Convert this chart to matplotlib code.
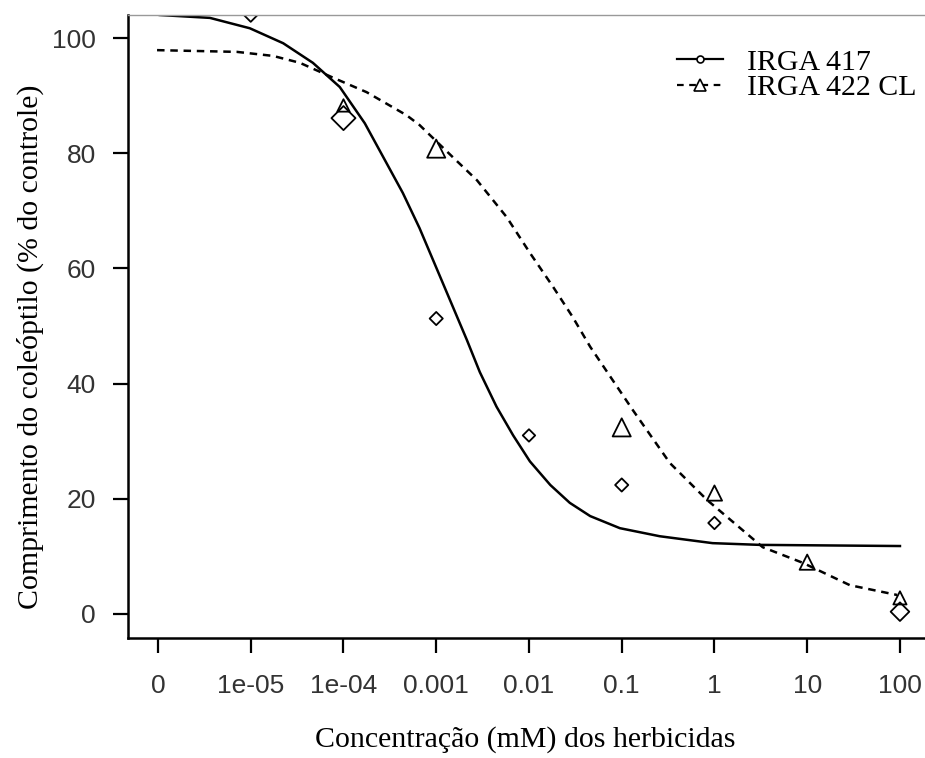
import numpy as np
import matplotlib
matplotlib.use("Agg")
import matplotlib.pyplot as plt
from matplotlib.lines import Line2D

# tick labels for the dose axis (0 is drawn one decade below 1e-05)
dose_labels = ["0", "1e-05", "1e-04", "0.001", "0.01", "0.1", "1", "10", "100"]
dose_log = [-6, -5, -4, -3, -2, -1, 0, 1, 2]

# observed points (log10 of dose in mM, % of control)
irga417_logdose = [-5, -4, -3, -2, -1, 0, 2]
irga417_values = [104.6, 86.1, 51.3, 31.0, 22.4, 15.8, 0.4]
irga422_logdose = [-4, -3, -1, 0, 1, 2]
irga422_values = [88.3, 80.8, 32.4, 21.0, 9.0, 2.8]

# fitted curves
fit417_logdose = [-5.98, -5.44, -5.01, -4.65, -4.33, -4.04, -3.77, -3.36, -3.18, -2.93,
                  -2.67, -2.53, -2.35, -2.17, -1.99, -1.77, -1.56, -1.34, -1.02, -0.59,
                  -0.02, 0.49, 2.0]
fit417_values = [104.0, 103.5, 101.7, 99.1, 95.7, 91.5, 85.2, 73.1, 67.0, 57.5,
                 47.6, 42.0, 36.0, 31.0, 26.5, 22.4, 19.3, 17.0, 14.9, 13.5,
                 12.3, 12.0, 11.8]
fit422_logdose = [-6.01, -5.15, -4.76, -4.47, -4.11, -3.75, -3.32, -3.18, -2.82, -2.56,
                  -2.24, -1.99, -1.74, -1.53, -1.34, -0.88, -0.48, -0.08, 0.52, 0.95,
                  1.46, 1.97]
fit422_values = [97.9, 97.6, 96.9, 95.7, 93.1, 90.6, 86.6, 84.9, 79.3, 75.3,
                 68.9, 62.7, 56.8, 51.6, 46.4, 35.4, 26.2, 19.8, 11.6, 8.9,
                 5.0, 3.3]

# marker sizes as they appear in the figure
size417 = [110, 150, 45, 40, 45, 40, 90]
size422 = [80, 170, 170, 120, 120, 90]

fig = plt.figure(figsize=(9.25, 7.58), dpi=100)
ax = fig.add_axes([0.1384, 0.1583, 0.8616, 0.8219])

ax.plot(fit417_logdose, fit417_values, color="black", lw=1.8)
ax.plot(fit422_logdose, fit422_values, color="black", lw=1.8, dashes=(3, 2.3))
ax.scatter(irga417_logdose, irga417_values, s=size417, marker="D",
           facecolors="none", edgecolors="black", linewidths=1.3)
ax.scatter(irga422_logdose, irga422_values, s=size422, marker="^",
           facecolors="none", edgecolors="black", linewidths=1.3)

ax.set_xlim(-6.323, 2.27)
ax.set_ylim(-4.17, 104.0)
ax.set_xticks(dose_log)
ax.set_xticklabels(dose_labels)
ax.set_yticks([0, 20, 40, 60, 80, 100])

for s in ["left", "bottom"]:
    ax.spines[s].set_linewidth(1.8)
ax.spines["right"].set_visible(False)
ax.spines["top"].set_color("#999999")
ax.spines["top"].set_linewidth(1.0)

ax.tick_params(axis="both", direction="out", length=11, width=1.6,
               labelsize=19, labelcolor="#333333")
ax.tick_params(axis="x", pad=15)
ax.tick_params(axis="y", pad=12)
for lab in ax.get_xticklabels() + ax.get_yticklabels():
    lab.set_family("Liberation Sans")

ax.set_xlabel("Concentração (mM) dos herbicidas", family="Liberation Serif", fontsize=21.5)
ax.set_ylabel("Comprimento do coleóptilo (% do controle)", family="Liberation Serif", fontsize=21.5)
ax.xaxis.set_label_coords(0.498, -0.141)
ax.yaxis.set_label_coords(-0.106, 0.467)

handles = [
    Line2D([], [], color="black", lw=1.6, marker="o", ms=5, mfc="white", mew=1.2),
    Line2D([], [], color="black", lw=1.6, dashes=(3, 2.5), marker="^", ms=8, mfc="white", mew=1.2),
]
ax.legend(handles, ["IRGA 417", "IRGA 422 CL"], loc="upper left",
          bbox_to_anchor=(677 / 925, 1 - 49 / 758), bbox_transform=fig.transFigure,
          frameon=False, prop={"family": "Liberation Serif", "size": 21.5},
          handlelength=1.54, handletextpad=0.8, labelspacing=-0.05, borderpad=0,
          borderaxespad=0)

fig.savefig("out.png", dpi=100, facecolor="white")
